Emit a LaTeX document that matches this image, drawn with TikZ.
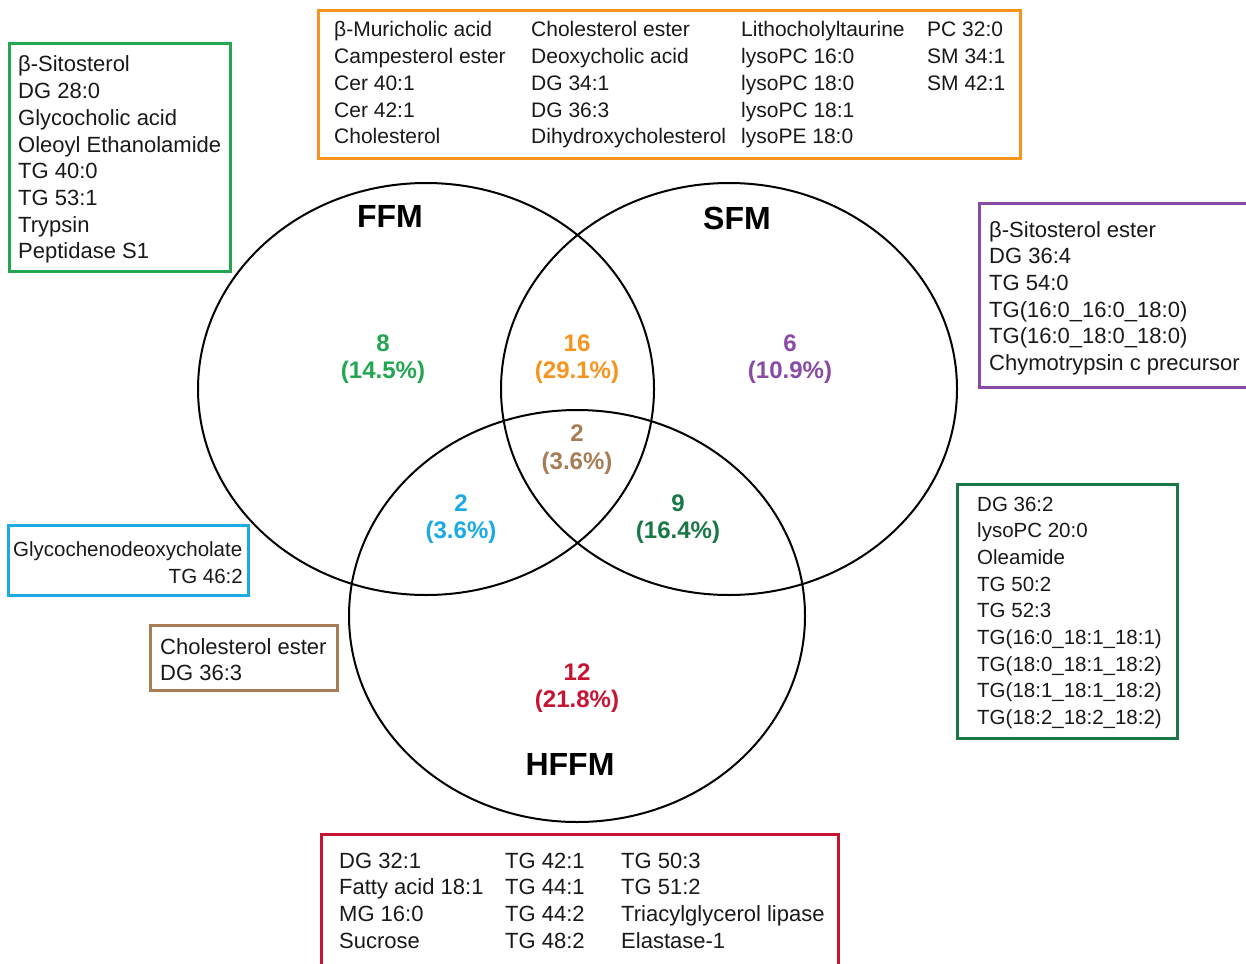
\documentclass[tikz,border=0pt]{standalone}
\usepackage{fontspec}
\setmainfont{Liberation Sans}
\usetikzlibrary{shapes.geometric}
\definecolor{cgreen}{RGB}{34,166,80}
\definecolor{corange}{RGB}{247,148,29}
\definecolor{cpurple}{RGB}{137,75,165}
\definecolor{cdgreen}{RGB}{25,120,70}
\definecolor{cblue}{RGB}{27,170,230}
\definecolor{cbrown}{RGB}{168,124,85}
\definecolor{cred}{RGB}{200,20,50}
\definecolor{ctext}{RGB}{25,25,25}
\newcommand\mylines[4]{%
  \foreach \t [count=\i] in {#4}
    \node[listtxt] (#1-\i) at (#2, {#3+(\i-1)*26.7}) {\t};%
}
\begin{document}
\begin{tikzpicture}[x=1pt,y=-1pt,
  venn/.style={ellipse, draw=black, line width=2pt, minimum width=456pt, minimum height=412pt, inner sep=0pt},
  listbox/.style={rectangle, draw=#1, line width=3pt, inner sep=0pt, fill=white},
  listtxt/.style={anchor=base west, inner sep=0pt, text=ctext, font=\fontsize{22}{26}\selectfont},
  cnt/.style={anchor=base, inner sep=0pt, font=\fontsize{24}{27}\selectfont\bfseries},
  setlbl/.style={anchor=base, inner sep=0pt, text=black, font=\fontsize{32}{36}\selectfont\bfseries}]
\useasboundingbox (0,0) rectangle (1246,963);
\clip (0,0) rectangle (1246,963);
\fill[white] (0,0) rectangle (1246,963);

% Venn ellipses
\node[venn] (ffm) at (426,389) {};
\node[venn] (sfm) at (729,389) {};
\node[venn] (hffm) at (577,616) {};

% set labels
\node[setlbl] (lffm) at (390,227) {FFM};
\node[setlbl] (lsfm) at (737,229) {SFM};
\node[setlbl] (lhffm) at (570,775) {HFFM};

% counts
\node[cnt, text=cgreen] (n1) at (383,351) {8};
\node[cnt, text=cgreen] (p1) at (383,378) {(14.5\%)};
\node[cnt, text=corange] (n2) at (577,351) {16};
\node[cnt, text=corange] (p2) at (577,378) {(29.1\%)};
\node[cnt, text=cpurple] (n3) at (790,351) {6};
\node[cnt, text=cpurple] (p3) at (790,378) {(10.9\%)};
\node[cnt, text=cbrown] (n4) at (577,441) {2};
\node[cnt, text=cbrown] (p4) at (577,469) {(3.6\%)};
\node[cnt, text=cblue] (n5) at (461,511) {2};
\node[cnt, text=cblue] (p5) at (461,538) {(3.6\%)};
\node[cnt, text=cdgreen] (n6) at (678,511) {9};
\node[cnt, text=cdgreen] (p6) at (678,538) {(16.4\%)};
\node[cnt, text=cred] (n7) at (577,680) {12};
\node[cnt, text=cred] (p7) at (577,707) {(21.8\%)};

% boxes
\node[listbox=cgreen, minimum width=221pt, minimum height=227pt] (gbox) at (119.5,157.5) {};
\node[listbox=corange, minimum width=702pt, minimum height=147pt] (obox) at (669,84.5) {};
\node[listbox=cpurple, minimum width=283pt, minimum height=184pt] (pbox) at (1120.5,295) {};
\node[listbox=cdgreen, minimum width=220pt, minimum height=254pt] (dgbox) at (1067,611) {};
\node[listbox=cblue, minimum width=240pt, minimum height=70pt] (bbox) at (128,560) {};
\node[listbox=cbrown, minimum width=187pt, minimum height=65pt] (brbox) at (243.5,657.5) {};
\node[listbox=cred, minimum width=517pt, minimum height=141pt] (rbox) at (579.5,904.5) {};

% box texts
\mylines{g}{18}{72}{β-Sitosterol,DG 28:0,Glycocholic acid,Oleoyl Ethanolamide,TG 40:0,TG 53:1,Trypsin,Peptidase S1}
\begin{scope}[listtxt/.append style={font=\fontsize{21}{26}\selectfont}]
\mylines{oa}{334}{37}{β-Muricholic acid,Campesterol ester,Cer 40:1,Cer 42:1,Cholesterol}
\mylines{ob}{531}{37}{Cholesterol ester,Deoxycholic acid,DG 34:1,DG 36:3,Dihydroxycholesterol}
\mylines{oc}{741}{37}{Lithocholyltaurine,lysoPC 16:0,lysoPC 18:0,lysoPC 18:1,lysoPE 18:0}
\mylines{od}{927}{37}{PC 32:0,SM 34:1,SM 42:1}
\end{scope}
\mylines{p}{989}{237}{β-Sitosterol ester,DG 36:4,TG 54:0,TG(16:0\_16:0\_18:0),TG(16:0\_18:0\_18:0),Chymotrypsin c precursor}
\begin{scope}[listtxt/.append style={font=\fontsize{20.5}{26}\selectfont}]
\mylines{dg}{977}{511}{DG 36:2,lysoPC 20:0,Oleamide,TG 50:2,TG 52:3,TG(16:0\_18:1\_18:1),TG(18:0\_18:1\_18:2),TG(18:1\_18:1\_18:2),TG(18:2\_18:2\_18:2)}
\end{scope}
\mylines{br}{160}{654}{Cholesterol ester,DG 36:3}
\mylines{ra}{339}{868}{DG 32:1,Fatty acid 18:1,MG 16:0,Sucrose}
\mylines{rb}{505}{868}{TG 42:1,TG 44:1,TG 44:2,TG 48:2}
\mylines{rc}{621}{868}{TG 50:3,TG 51:2,Triacylglycerol lipase,Elastase-1}
\node[listtxt, font=\fontsize{20.5}{26}\selectfont] (b-1) at (13,556) {Glycochenodeoxycholate};
\node[listtxt, anchor=base east, font=\fontsize{20.5}{26}\selectfont] (b-2) at (243,583) {TG 46:2};
\end{tikzpicture}
\end{document}
